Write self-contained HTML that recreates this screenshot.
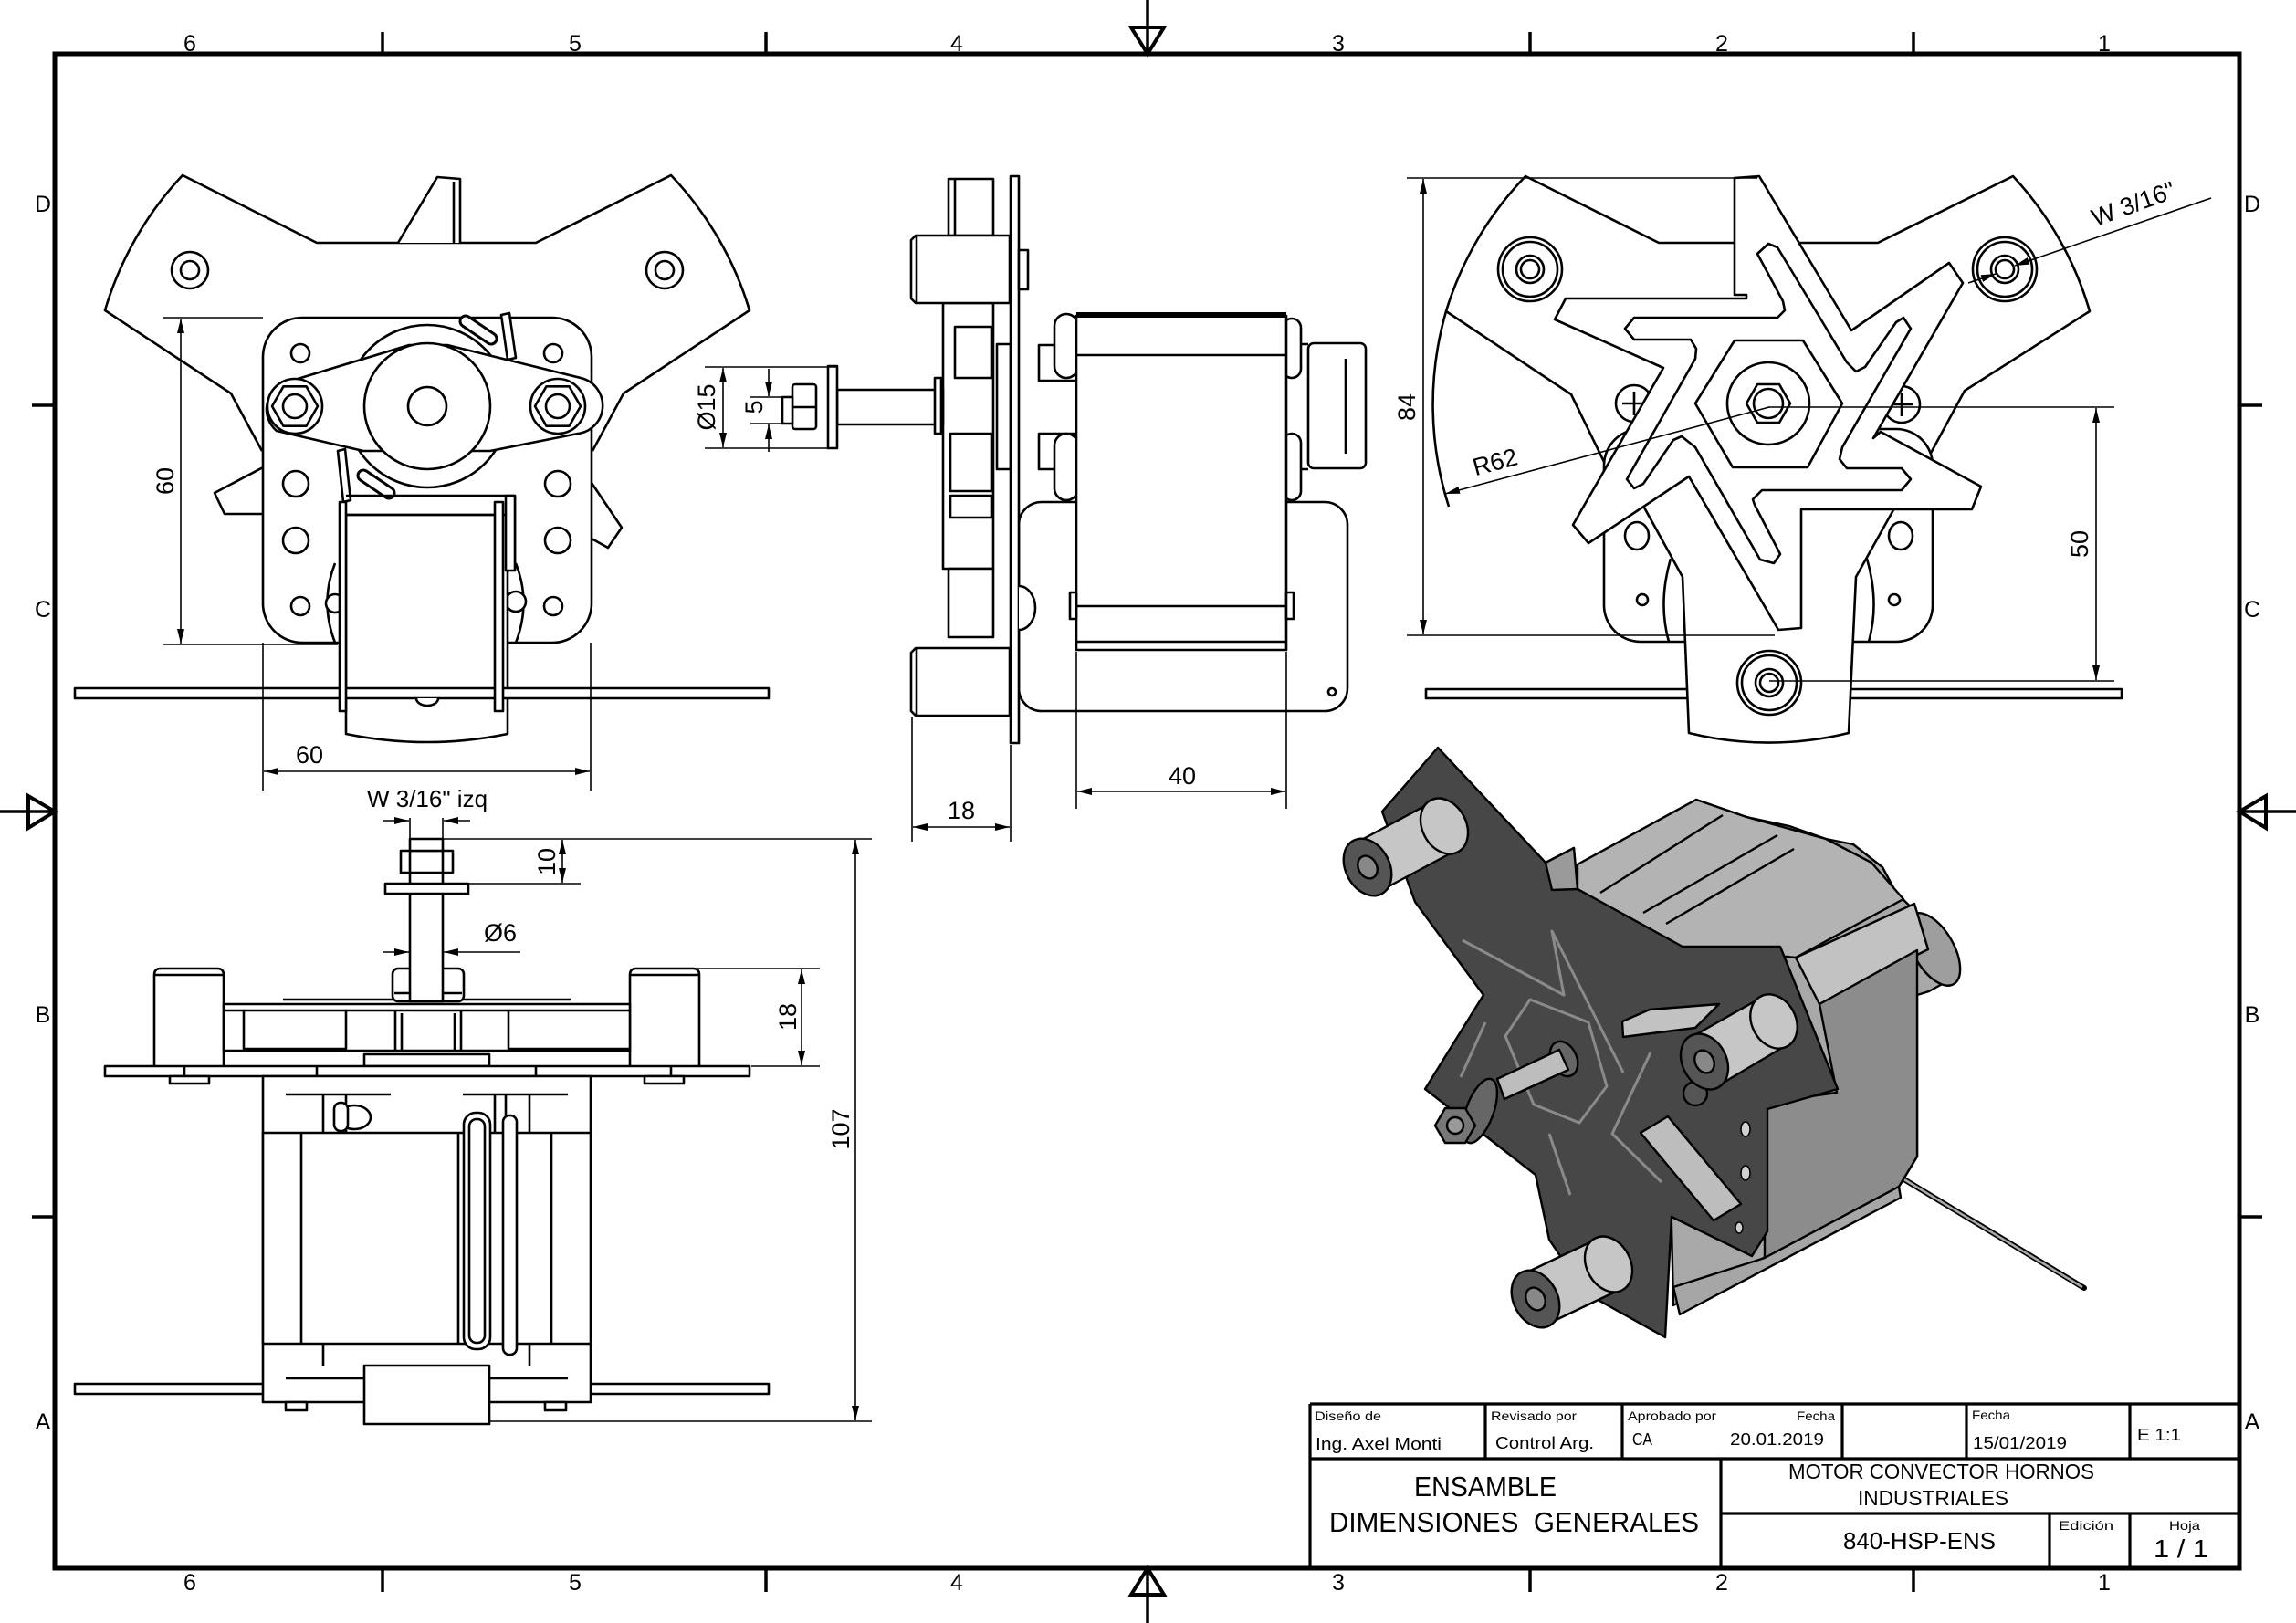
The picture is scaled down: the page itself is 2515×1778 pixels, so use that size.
<!DOCTYPE html>
<html><head><meta charset="utf-8"><style>
html,body{margin:0;padding:0;background:#fff;}
svg{display:block;}
.o{fill:none;stroke:#000;stroke-width:2.6;stroke-linejoin:round;}
.w{fill:#fff;stroke:#000;stroke-width:2.6;stroke-linejoin:round;}
.d{fill:none;stroke:#000;stroke-width:1.6;}
.t{font-family:"Liberation Sans",sans-serif;fill:#000;}
</style></head><body>
<svg width="2515" height="1778" viewBox="0 0 2515 1778" xmlns="http://www.w3.org/2000/svg">
<defs>
<marker id="ar" viewBox="0 0 16 8" refX="16" refY="4" markerWidth="16" markerHeight="8" markerUnits="userSpaceOnUse" orient="auto-start-reverse"><path d="M0,0 L16,4 L0,8 z" fill="#000"/></marker>
</defs>
<rect width="2515" height="1778" fill="#fff"/>

<!-- ===== BORDER ===== -->
<rect x="60" y="59" width="2393" height="1659" fill="none" stroke="#000" stroke-width="5"/>
<g stroke="#000" stroke-width="3.5">
<line x1="419" y1="35" x2="419" y2="59"/><line x1="839" y1="35" x2="839" y2="59"/><line x1="1676" y1="35" x2="1676" y2="59"/><line x1="2096" y1="35" x2="2096" y2="59"/>
<line x1="419" y1="1718" x2="419" y2="1744"/><line x1="839" y1="1718" x2="839" y2="1744"/><line x1="1676" y1="1718" x2="1676" y2="1744"/><line x1="2096" y1="1718" x2="2096" y2="1744"/>
<line x1="35" y1="444" x2="60" y2="444"/><line x1="35" y1="1333" x2="60" y2="1333"/>
<line x1="2453" y1="444" x2="2478" y2="444"/><line x1="2453" y1="1333" x2="2478" y2="1333"/>
<line x1="1257" y1="0" x2="1257" y2="59"/><line x1="1257" y1="1718" x2="1257" y2="1778"/>
<line x1="0" y1="889" x2="60" y2="889"/><line x1="2453" y1="889" x2="2515" y2="889"/>
</g>
<g fill="none" stroke="#000" stroke-width="4">
<path d="M1239,30 L1275,30 L1257,59 Z"/>
<path d="M1239,1747 L1275,1747 L1257,1718 Z"/>
<path d="M31,872 L31,907 L60,889 Z"/>
<path d="M2482,872 L2482,907 L2453,889 Z"/>
</g>
<g class="t" font-size="25" text-anchor="middle">
<text x="208" y="56">6</text><text x="630" y="56">5</text><text x="1048" y="56">4</text><text x="1466" y="56">3</text><text x="1886" y="56">2</text><text x="2305" y="56">1</text>
<text x="208" y="1742">6</text><text x="630" y="1742">5</text><text x="1048" y="1742">4</text><text x="1466" y="1742">3</text><text x="1886" y="1742">2</text><text x="2305" y="1742">1</text>
<text x="47" y="232">D</text><text x="47" y="676">C</text><text x="47" y="1120">B</text><text x="47" y="1566">A</text>
<text x="2467" y="232">D</text><text x="2467" y="676">C</text><text x="2467" y="1120">B</text><text x="2467" y="1566">A</text>
</g>

<!-- ===== TITLE BLOCK ===== -->
<g stroke="#000" stroke-width="3.2" fill="none">
<line x1="1435" y1="1538" x2="2453" y2="1538"/>
<line x1="1435" y1="1538" x2="1435" y2="1718"/>
<line x1="1435" y1="1598" x2="2453" y2="1598"/>
<line x1="1885" y1="1658" x2="2453" y2="1658"/>
<line x1="1627" y1="1538" x2="1627" y2="1598"/>
<line x1="1777" y1="1538" x2="1777" y2="1598"/>
<line x1="2018" y1="1538" x2="2018" y2="1598"/>
<line x1="2154" y1="1538" x2="2154" y2="1598"/>
<line x1="2333" y1="1538" x2="2333" y2="1598"/>
<line x1="1885" y1="1598" x2="1885" y2="1718"/>
<line x1="2245" y1="1658" x2="2245" y2="1718"/>
<line x1="2333" y1="1658" x2="2333" y2="1718"/>
</g>
<g class="t">
<text x="1440" y="1556" font-size="14" textLength="73" lengthAdjust="spacingAndGlyphs">Diseño de</text>
<text x="1441" y="1588" font-size="18" textLength="138" lengthAdjust="spacingAndGlyphs">Ing. Axel Monti</text>
<text x="1633" y="1556" font-size="14" textLength="94" lengthAdjust="spacingAndGlyphs">Revisado por</text>
<text x="1638" y="1587" font-size="18" textLength="108" lengthAdjust="spacingAndGlyphs">Control Arg.</text>
<text x="1783" y="1556" font-size="14" textLength="97" lengthAdjust="spacingAndGlyphs">Aprobado por</text>
<text x="1968" y="1556" font-size="14" textLength="42" lengthAdjust="spacingAndGlyphs">Fecha</text>
<text x="1788" y="1583" font-size="18" textLength="22" lengthAdjust="spacingAndGlyphs">CA</text>
<text x="1895" y="1583" font-size="18" textLength="103" lengthAdjust="spacingAndGlyphs">20.01.2019</text>
<text x="2160" y="1555" font-size="14" textLength="42" lengthAdjust="spacingAndGlyphs">Fecha</text>
<text x="2161" y="1587" font-size="18" textLength="103" lengthAdjust="spacingAndGlyphs">15/01/2019</text>
<text x="2341" y="1578" font-size="18" textLength="48" lengthAdjust="spacingAndGlyphs">E 1:1</text>
<text x="1549" y="1639" font-size="31" textLength="156" lengthAdjust="spacingAndGlyphs">ENSAMBLE</text>
<text x="1456" y="1678" font-size="31" textLength="405" lengthAdjust="spacingAndGlyphs" xml:space="preserve">DIMENSIONES  GENERALES</text>
<text x="1959" y="1620" font-size="23" textLength="335" lengthAdjust="spacingAndGlyphs">MOTOR CONVECTOR HORNOS</text>
<text x="2035" y="1649" font-size="23" textLength="165" lengthAdjust="spacingAndGlyphs">INDUSTRIALES</text>
<text x="2019" y="1697" font-size="26" textLength="167" lengthAdjust="spacingAndGlyphs">840-HSP-ENS</text>
<text x="2255" y="1676" font-size="14" textLength="60" lengthAdjust="spacingAndGlyphs">Edición</text>
<text x="2376" y="1676" font-size="14" textLength="34" lengthAdjust="spacingAndGlyphs">Hoja</text>
<text x="2359" y="1706" font-size="28" textLength="60" lengthAdjust="spacingAndGlyphs">1 / 1</text>
</g>

<!-- ===== TOP-LEFT VIEW ===== -->
<g>
<path class="w" d="M287,494 L253,431 L115,340 A368,368 0 0 1 200,192 L347,266 L587,266 L735,192 A368,368 0 0 1 821,340 L683,431 L649,494"/>
<path class="w" d="M436,266 L479,194 L504,196 L504,266"/>
<line class="o" x1="497" y1="199" x2="497" y2="266"/>
<circle class="o" cx="208" cy="296" r="20" stroke-width="4"/><circle class="o" cx="208" cy="296" r="10"/>
<circle class="o" cx="728" cy="296" r="20" stroke-width="4"/><circle class="o" cx="728" cy="296" r="10"/>
<path class="w" d="M290,511 L235,540 L246,563 L290,563"/>
<path class="w" d="M646,526 L681,578 L666,600 L646,589"/>
<rect class="w" x="288" y="348" width="360" height="356" rx="43"/>
<g class="o">
<circle cx="329" cy="387" r="10"/><circle cx="606" cy="387" r="10"/>
<circle cx="324" cy="530" r="14"/><circle cx="611" cy="530" r="14"/>
<circle cx="324" cy="592" r="14"/><circle cx="611" cy="592" r="14"/>
<circle cx="329" cy="664" r="10"/><circle cx="606" cy="664" r="10"/>
</g>
<circle class="o" cx="468" cy="445" r="89" stroke-width="5"/>
<g stroke-linecap="round">
<line x1="510" y1="352" x2="538" y2="371" stroke="#000" stroke-width="15"/><line x1="510" y1="352" x2="538" y2="371" stroke="#fff" stroke-width="9"/>
<line x1="398" y1="521" x2="426" y2="540" stroke="#000" stroke-width="15"/><line x1="398" y1="521" x2="426" y2="540" stroke="#fff" stroke-width="9"/>
</g>
<path class="w" d="M549,345 L558,343 L565,392 L556,394 Z"/>
<path class="w" d="M370,494 L378,492 L384,548 L376,550 Z"/>
<path class="w" d="M313,419 L448,378 L490,378 L636,414 A31,31 0 0 1 633,475 L537,494 L398,494 L303,472 A31,31 0 0 1 313,419 Z"/>
<circle class="w" cx="468" cy="445" r="69"/>
<circle class="o" cx="468" cy="445" r="21"/>
<circle class="w" cx="323" cy="445" r="30"/>
<polygon class="o" points="348,445 335.5,466.7 310.5,466.7 298,445 310.5,423.3 335.5,423.3"/>
<circle class="o" cx="323" cy="445" r="13" stroke-width="5"/>
<circle class="w" cx="611" cy="445" r="30"/>
<polygon class="o" points="636,445 623.5,466.7 598.5,466.7 586,445 598.5,423.3 623.5,423.3"/>
<circle class="o" cx="611" cy="445" r="13" stroke-width="5"/>
<!-- coil -->
<path class="w" d="M367,617 Q350,660 367,704"/>
<path class="w" d="M565,617 Q582,660 565,704"/>
<circle class="w" cx="367" cy="661" r="10"/>
<circle class="w" cx="565" cy="659" r="11"/>
<path class="w" d="M379,564 L379,804 Q468,822 556,804 L556,564 Z"/>
<path class="o" d="M379,543 L564,543 L564,625"/>
<line class="o" x1="379" y1="564" x2="542" y2="564"/>
<rect class="w" x="82" y="754" width="760" height="11"/>
<path class="w" d="M456,765 A12,8 0 0 0 480,765"/>
<rect class="w" x="372" y="550" width="7" height="229"/>
<rect class="w" x="542" y="550" width="9" height="229"/>
<rect class="w" x="554" y="543" width="10" height="82"/>
<!-- dims -->
<line class="d" x1="178" y1="348" x2="288" y2="348"/>
<line class="d" x1="178" y1="706" x2="370" y2="706"/>
<line class="d" x1="198" y1="349" x2="198" y2="705" marker-start="url(#ar)" marker-end="url(#ar)"/>
<line class="d" x1="288" y1="704" x2="288" y2="866"/>
<line class="d" x1="647" y1="704" x2="647" y2="866"/>
<line class="d" x1="289" y1="845" x2="646" y2="845" marker-start="url(#ar)" marker-end="url(#ar)"/>
<text class="t" font-size="27" text-anchor="middle" transform="translate(190,527) rotate(-90)">60</text>
<text class="t" font-size="27" text-anchor="middle" x="339" y="836">60</text>
</g>

<!-- ===== TOP-MIDDLE (SIDE) VIEW ===== -->
<g>
<rect class="w" x="1116" y="550" width="360" height="229" rx="25"/>
<circle class="o" cx="1459" cy="758" r="4"/>
<rect class="w" x="1039" y="196" width="49" height="62"/>
<rect class="w" x="1033" y="332" width="55" height="291"/>
<rect class="w" x="1039" y="623" width="49" height="75"/>
<rect class="o" x="1046" y="358" width="40" height="56"/>
<rect class="o" x="1041" y="475" width="45" height="63"/>
<rect class="o" x="1041" y="543" width="45" height="24"/>
<line class="o" x1="1046" y1="196" x2="1046" y2="258"/>
<path class="w" d="M1003,258 L1106,258 L1106,332 L1003,332 L998,327 L998,263 Z"/>
<line class="o" x1="1004" y1="258" x2="1004" y2="332"/>
<path class="w" d="M1003,710 L1106,710 L1106,784 L1003,784 L998,779 L998,715 Z"/>
<line class="o" x1="1004" y1="710" x2="1004" y2="784"/>
<rect class="w" x="1092" y="377" width="15" height="137"/>
<rect class="w" x="1107" y="193" width="9" height="621"/>
<rect class="w" x="1116" y="274" width="10" height="43"/>
<path class="w" d="M1116,642 A18,24 0 0 1 1116,690"/>
<!-- shaft -->
<rect class="w" x="917" y="427" width="116" height="38"/>
<rect class="w" x="1024" y="414" width="7" height="61"/>
<rect class="w" x="907" y="401" width="10" height="90"/>
<rect class="w" x="868" y="421" width="26" height="49" rx="3"/>
<line class="o" x1="868" y1="446" x2="894" y2="446"/>
<rect class="w" x="857" y="435" width="11" height="29"/>
<!-- motor -->
<path class="o" d="M1179,378 L1138,378 L1138,417 L1179,417"/>
<path class="o" d="M1179,475 L1138,475 L1138,514 L1179,514"/>
<rect class="w" x="1155" y="344" width="26" height="70" rx="13"/>
<rect class="w" x="1155" y="475" width="26" height="73" rx="13"/>
<rect class="w" x="1405" y="349" width="20" height="65" rx="10"/>
<rect class="w" x="1405" y="475" width="20" height="73" rx="10"/>
<path class="o" d="M1425,377 L1433,377 M1425,514 L1433,514"/>
<rect class="w" x="1433" y="376" width="63" height="137" rx="6"/>
<line class="o" x1="1474" y1="393" x2="1474" y2="497"/>
<rect class="w" x="1179" y="346" width="230" height="366"/>
<rect x="1179" y="342" width="230" height="6" fill="#000"/>
<line class="o" x1="1179" y1="389" x2="1409" y2="389"/>
<line class="o" x1="1179" y1="664" x2="1409" y2="664"/>
<line class="o" x1="1179" y1="703" x2="1409" y2="703"/>
<rect class="w" x="1172" y="649" width="7" height="29"/>
<rect class="w" x="1409" y="649" width="8" height="29"/>
<!-- dims -->
<line class="d" x1="772" y1="402" x2="917" y2="402"/>
<line class="d" x1="772" y1="491" x2="907" y2="491"/>
<line class="d" x1="792" y1="403" x2="792" y2="490" marker-start="url(#ar)" marker-end="url(#ar)"/>
<line class="d" x1="822" y1="435" x2="868" y2="435"/>
<line class="d" x1="822" y1="464" x2="868" y2="464"/>
<line class="d" x1="842" y1="404" x2="842" y2="434" marker-end="url(#ar)"/>
<line class="d" x1="842" y1="495" x2="842" y2="465" marker-end="url(#ar)"/>
<text class="t" font-size="27" text-anchor="middle" transform="translate(783,446) rotate(-90)">Ø15</text>
<text class="t" font-size="27" text-anchor="middle" transform="translate(835,446) rotate(-90)">5</text>
<line class="d" x1="999" y1="786" x2="999" y2="922"/>
<line class="d" x1="1107" y1="816" x2="1107" y2="922"/>
<line class="d" x1="1000" y1="906" x2="1106" y2="906" marker-start="url(#ar)" marker-end="url(#ar)"/>
<text class="t" font-size="27" text-anchor="middle" x="1053" y="897">18</text>
<line class="d" x1="1179" y1="714" x2="1179" y2="886"/>
<line class="d" x1="1409" y1="714" x2="1409" y2="886"/>
<line class="d" x1="1180" y1="867" x2="1408" y2="867" marker-start="url(#ar)" marker-end="url(#ar)"/>
<text class="t" font-size="27" text-anchor="middle" x="1295" y="859">40</text>
</g>

<!-- ===== TOP-RIGHT VIEW ===== -->
<g>
<path class="w" d="M1759,510 L1721,432 L1584,341 A368,368 0 0 1 1671,193 L1817,266 L1901,266"/>
<path class="o" d="M1584,341 A368,368 0 0 0 1587,555"/>
<path class="w" d="M1970,266 L2057,266 L2205,193 A368,368 0 0 1 2289,341 L2152,428 L2113,500"/>
<rect class="w" x="1757" y="470" width="360" height="233" rx="40"/>
<ellipse class="o" cx="1793" cy="587" rx="13" ry="15"/>
<ellipse class="o" cx="2082" cy="587" rx="13" ry="15"/>
<circle class="o" cx="1799" cy="657" r="6"/>
<circle class="o" cx="2075" cy="657" r="6"/>
<path class="o" d="M1830,612 Q1816,660 1828,703"/>
<path class="o" d="M2045,612 Q2059,660 2047,703"/>
<rect class="w" x="1562" y="755" width="762" height="10"/>
<path class="w" d="M1795,545 L1843,632 L1850,803 A368,368 0 0 0 2025,803 L2033,632 L2080,548"/>
<circle class="o" cx="1676" cy="295" r="35"/><circle class="o" cx="1676" cy="295" r="30"/><circle class="o" cx="1676" cy="295" r="15"/><circle class="o" cx="1676" cy="295" r="10"/>
<circle class="o" cx="2196" cy="295" r="35"/><circle class="o" cx="2196" cy="295" r="30"/><circle class="o" cx="2196" cy="295" r="15"/><circle class="o" cx="2196" cy="295" r="10"/>
<circle class="w" cx="1938" cy="748" r="35"/><circle class="o" cx="1938" cy="748" r="30"/><circle class="o" cx="1938" cy="748" r="15"/><circle class="o" cx="1938" cy="748" r="10"/>
<circle class="w" cx="1790" cy="442" r="20" stroke-width="4"/>
<path class="o" d="M1777,442 L1803,442 M1790,429 L1790,455" stroke-width="5"/>
<circle class="w" cx="2083" cy="443" r="20" stroke-width="4"/>
<path class="o" d="M2070,443 L2096,443 M2083,430 L2083,456" stroke-width="5"/>
<path class="w" d="M1900,195 L1927,193 L2028,362 L2135,288 L2150,310 L2052,480 L2060,473 L2170,533 L2160,558 L1973,558 L1973,688 L1948,690 L1850,522 L1740,595 L1723,575 L1822,403 L1703,350 L1715,327 L1913,327 L1913,323 L1900,323 Z"/>
<path class="o" d="M1925,278 L1937,267 L1947,271 L2023,397 L2033,407 L2043,402 L2077,353 L2085,348 L2093,360 L2018,490 L2015,503 L2023,513 L2083,513 L2093,525 L2083,537 L1930,537 L1920,547 L1922,553 L1950,607 L1943,617 L1928,613 L1857,490 L1842,478 L1833,482 L1800,530 L1790,535 L1782,525 L1857,393 L1858,382 L1852,372 L1790,372 L1780,360 L1790,348 L1947,348 L1955,340 L1953,330 Z"/>
<polygon class="o" points="1900,373 1975,373 2018,442 1980,512 1898,512 1857,442"/>
<circle class="o" cx="1937" cy="442" r="45"/>
<polygon class="o" points="1961,442 1949,463 1925,463 1913,442 1925,421 1949,421"/>
<circle class="o" cx="1937" cy="442" r="16" stroke-width="5"/>
<!-- dims -->
<line class="d" x1="1541" y1="195" x2="1925" y2="195"/>
<line class="d" x1="1541" y1="696" x2="1944" y2="696"/>
<line class="d" x1="1559" y1="196" x2="1559" y2="695" marker-start="url(#ar)" marker-end="url(#ar)"/>
<text class="t" font-size="27" text-anchor="middle" transform="translate(1550,446) rotate(-90)">84</text>
<line class="d" x1="1937" y1="446" x2="2316" y2="446"/>
<line class="d" x1="1938" y1="746" x2="2316" y2="746"/>
<line class="d" x1="2296" y1="447" x2="2296" y2="745" marker-start="url(#ar)" marker-end="url(#ar)"/>
<text class="t" font-size="27" text-anchor="middle" transform="translate(2287,596) rotate(-90)">50</text>
<line class="d" x1="1938" y1="446" x2="1583" y2="541" marker-end="url(#ar)"/>
<text class="t" font-size="27" text-anchor="middle" transform="translate(1640,515) rotate(-15)">R62</text>
<line class="d" x1="2156" y1="310" x2="2186" y2="300" marker-end="url(#ar)"/>
<line class="d" x1="2422" y1="217" x2="2207" y2="291" marker-end="url(#ar)"/>
<text class="t" font-size="27" text-anchor="middle" transform="translate(2340,232) rotate(-20)">W 3/16"</text>
</g>

<!-- ===== BOTTOM-LEFT VIEW ===== -->
<g>
<rect class="w" x="82" y="1516" width="760" height="11"/>
<path class="w" d="M169,1168 L169,1068 Q169,1061 176,1061 L238,1061 Q245,1061 245,1068 L245,1168"/>
<line class="o" x1="169" y1="1068" x2="245" y2="1068"/>
<path class="w" d="M690,1168 L690,1068 Q690,1061 697,1061 L759,1061 Q766,1061 766,1068 L766,1168"/>
<line class="o" x1="690" y1="1068" x2="766" y2="1068"/>
<line class="o" x1="310" y1="1095" x2="625" y2="1095"/>
<rect class="w" x="245" y="1100" width="445" height="51"/>
<line class="o" x1="245" y1="1107" x2="690" y2="1107"/>
<path class="o" d="M267,1107 L267,1149 L379,1149 L379,1107"/>
<path class="o" d="M557,1107 L557,1149 L690,1149"/>
<path class="o" d="M433,1107 L433,1151 M505,1107 L505,1151 M440,1110 L440,1151 M498,1110 L498,1151"/>
<rect class="w" x="430" y="1061" width="78" height="36" rx="6"/>
<line class="o" x1="432" y1="1088" x2="506" y2="1088"/>
<rect class="w" x="399" y="1155" width="137" height="13"/>
<rect class="w" x="115" y="1168" width="706" height="11"/>
<path class="o" d="M347,1168 L347,1179 M587,1168 L587,1179 M202,1168 L202,1179 M735,1168 L735,1179"/>
<rect class="w" x="186" y="1179" width="43" height="8"/>
<rect class="w" x="706" y="1179" width="43" height="8"/>
<rect class="w" x="288" y="1179" width="359" height="357"/>
<path class="o" d="M313,1199 L428,1199 M507,1199 L622,1199 M313,1510 L428,1510 M507,1510 L622,1510"/>
<path class="o" d="M354,1199 L354,1241 M379,1199 L379,1241 M542,1199 L542,1241 M554,1199 L554,1241 M580,1199 L580,1241 M354,1472 L354,1496 M580,1472 L580,1496"/>
<rect class="w" x="288" y="1241" width="359" height="231"/>
<line class="o" x1="330" y1="1241" x2="330" y2="1472"/>
<line class="o" x1="604" y1="1241" x2="604" y2="1472"/>
<line class="o" x1="502" y1="1241" x2="502" y2="1472"/>
<ellipse class="w" cx="388" cy="1224" rx="18" ry="13"/>
<rect class="w" x="366" y="1208" width="15" height="31" rx="7"/>
<rect class="w" x="508" y="1219" width="29" height="259" rx="13"/>
<rect class="o" x="514" y="1226" width="17" height="245" rx="8"/>
<rect class="w" x="551" y="1222" width="15" height="262" rx="7"/>
<rect class="w" x="399" y="1496" width="137" height="64"/>
<rect class="w" x="313" y="1536" width="23" height="9"/>
<rect class="w" x="597" y="1536" width="23" height="9"/>
<!-- shaft/nut -->
<rect class="w" x="449" y="979" width="36" height="118"/>
<rect class="w" x="422" y="968" width="91" height="11"/>
<rect class="w" x="439" y="932" width="57" height="24"/>
<path class="o" d="M449,932 L449,956 M485,932 L485,956"/>
<rect class="w" x="449" y="919" width="36" height="13"/>
<path class="o" d="M449,956 L449,968 M485,956 L485,968"/>
<!-- dims -->
<text class="t" font-size="26" text-anchor="middle" x="468" y="884">W 3/16" izq</text>
<line class="d" x1="449" y1="896" x2="449" y2="919"/>
<line class="d" x1="485" y1="896" x2="485" y2="919"/>
<line class="d" x1="419" y1="899" x2="448" y2="899" marker-end="url(#ar)"/>
<line class="d" x1="515" y1="899" x2="486" y2="899" marker-end="url(#ar)"/>
<line class="d" x1="485" y1="919" x2="955" y2="919"/>
<line class="d" x1="513" y1="968" x2="636" y2="968"/>
<line class="d" x1="616" y1="920" x2="616" y2="967" marker-start="url(#ar)" marker-end="url(#ar)"/>
<text class="t" font-size="27" text-anchor="middle" transform="translate(608,944) rotate(-90)">10</text>
<text class="t" font-size="27" text-anchor="middle" x="548" y="1031">Ø6</text>
<line class="d" x1="419" y1="1043" x2="448" y2="1043" marker-end="url(#ar)"/>
<line class="d" x1="570" y1="1043" x2="486" y2="1043" marker-end="url(#ar)"/>
<line class="d" x1="763" y1="1061" x2="898" y2="1061"/>
<line class="d" x1="823" y1="1168" x2="898" y2="1168"/>
<line class="d" x1="878" y1="1062" x2="878" y2="1167" marker-start="url(#ar)" marker-end="url(#ar)"/>
<text class="t" font-size="27" text-anchor="middle" transform="translate(872,1114) rotate(-90)">18</text>
<line class="d" x1="536" y1="1557" x2="955" y2="1557"/>
<line class="d" x1="937" y1="920" x2="937" y2="1556" marker-start="url(#ar)" marker-end="url(#ar)"/>
<text class="t" font-size="27" text-anchor="middle" transform="translate(930,1237) rotate(-90)">107</text>
</g>

<!-- ===== ISOMETRIC VIEW ===== -->
<g stroke="#000" stroke-width="2.4" stroke-linejoin="round">
<line x1="2084" y1="1291" x2="2283" y2="1411" stroke="#000" stroke-width="6" stroke-linecap="round"/>
<line x1="2084" y1="1291" x2="2281" y2="1410" stroke="#aaa" stroke-width="2.5"/>
<!-- body -->
<path fill="#a8a8a8" d="M1728,947 L1858,876 L1913,895 L1960,905 L2000,919 L2030,925 L2062,950 L2077,978 L2110,1010 L2140,1045 L2140,1071 L2113,1086 L2100,1090 L2100,1267 L2080,1300 L1833,1430 L1830,1300 L1900,1200 L1950,1037 L1800,990 Z"/>
<path fill="#b3b3b3" d="M1728,947 L1858,876 L1913,895 L2000,919 L2050,945 L2085,985 L1967,1049 L1843,1038 L1728,974 Z"/>
<path fill="none" d="M1753,978 L1887,893 M1800,1000 L1947,915 M1825,1012 L1965,930"/>
<ellipse cx="2118" cy="1040" rx="22" ry="44" transform="rotate(-30 2118 1040)" fill="#9e9e9e"/>
<path fill="#c2c2c2" d="M1967,1049 L2097,990 L2112,1040 L1993,1100 Z"/>
<path fill="#8c8c8c" d="M1993,1100 L2100,1041 L2100,1267 L2080,1300 L1933,1378 L1933,1208 L2012,1197 Z"/>
<path fill="#a6a6a6" d="M1933,1378 L2080,1300 L2082,1312 L1840,1440 L1833,1410 Z"/>
<!-- dark plate -->
<path fill="#474747" d="M1575,819 L1693,945 L1724,929 L1728,974 L1843,1037 L1950,1037 L2013,1193 L1936,1215 L1936,1349 L1919,1376 L1831,1333 L1824,1465 L1736,1416 L1697,1358 L1682,1287 L1561,1193 L1625,1090 L1550,988 L1514,889 Z"/>
<path fill="#9a9a9a" d="M1693,945 L1724,929 L1728,974 L1700,975 Z"/>
<g fill="none" stroke="#8a8a8a" stroke-width="3">
<path d="M1602,1030 L1713,1090 L1700,1020 L1778,1175"/>
<path d="M1649,1135 L1676,1095 L1740,1120 L1760,1190 L1730,1230 L1680,1210 Z"/>
<path d="M1808,1153 L1766,1242 L1820,1295"/>
<path d="M1697,1242 L1720,1309 M1627,1120 L1600,1180"/>
</g>
<!-- light blades -->
<path fill="#c2c2c2" d="M1777,1119 L1807,1106 L1883,1100 L1857,1126 L1778,1136 Z"/>
<path fill="#bdbdbd" d="M1797,1241 L1827,1223 L1907,1319 L1877,1337 Z"/>
<g fill="#d0d0d0" stroke-width="1.5">
<ellipse cx="1912" cy="1237" rx="5" ry="8"/><ellipse cx="1912" cy="1285" rx="5" ry="8"/><ellipse cx="1905" cy="1345" rx="4" ry="6"/>
</g>
<circle cx="1857" cy="1198" r="13" fill="#555"/>
<!-- cylinders -->
<path fill="#c6c6c6" d="M1512,976 L1484,924 L1568,879 L1596,931 Z"/>
<ellipse cx="1582" cy="905" rx="24" ry="32" transform="rotate(-28 1582 905)" fill="#c6c6c6"/>
<ellipse cx="1498" cy="950" rx="24" ry="33" transform="rotate(-28 1498 950)" fill="#555"/>
<ellipse cx="1498" cy="950" rx="10" ry="13" transform="rotate(-28 1498 950)" fill="#888"/>
<path fill="#c6c6c6" d="M1881,1190 L1853,1136 L1929,1093 L1957,1145 Z"/>
<ellipse cx="1943" cy="1119" rx="24" ry="31" transform="rotate(-28 1943 1119)" fill="#c6c6c6"/>
<ellipse cx="1867" cy="1163" rx="24" ry="32" transform="rotate(-28 1867 1163)" fill="#555"/>
<ellipse cx="1867" cy="1163" rx="10" ry="13" transform="rotate(-28 1867 1163)" fill="#888"/>
<path fill="#c6c6c6" d="M1696,1450 L1668,1396 L1748,1358 L1776,1412 Z"/>
<ellipse cx="1762" cy="1385" rx="24" ry="32" transform="rotate(-28 1762 1385)" fill="#c6c6c6"/>
<ellipse cx="1682" cy="1423" rx="24" ry="33" transform="rotate(-28 1682 1423)" fill="#555"/>
<ellipse cx="1682" cy="1423" rx="10" ry="13" transform="rotate(-28 1682 1423)" fill="#888"/>
<!-- shaft & nut -->
<ellipse cx="1713" cy="1160" rx="14" ry="20" transform="rotate(-25 1713 1160)" fill="#666"/>
<path fill="#bdbdbd" d="M1640,1182 L1708,1150 L1718,1172 L1648,1204 Z"/>
<ellipse cx="1621" cy="1217" rx="15" ry="37" transform="rotate(20 1621 1217)" fill="#666"/>
<polygon fill="#777" points="1616,1233 1605,1252 1583,1252 1572,1233 1583,1214 1605,1214"/>
<circle cx="1594" cy="1233" r="9" fill="#999"/>
</g>
</svg>
</body></html>
